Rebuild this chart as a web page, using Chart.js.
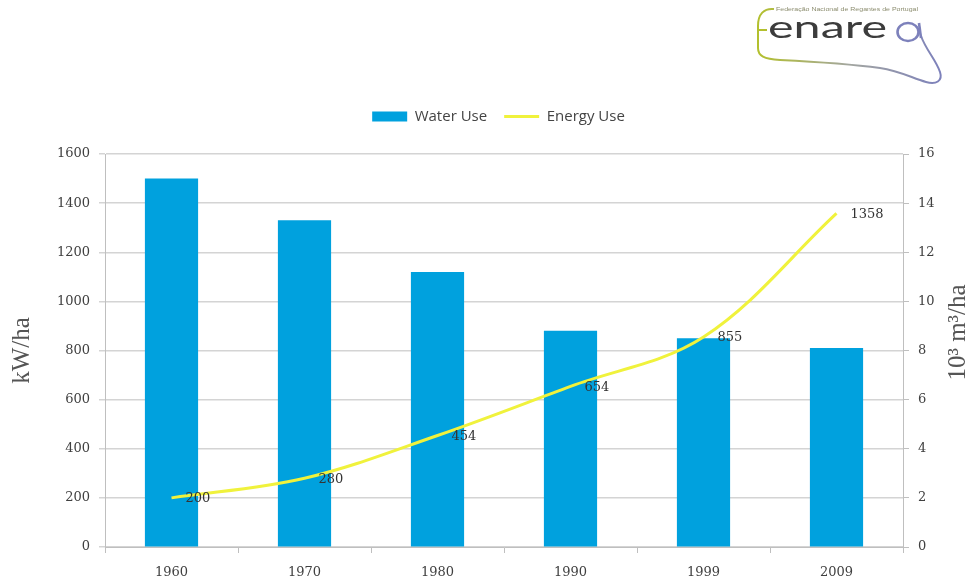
<!DOCTYPE html>
<html>
<head>
<meta charset="utf-8">
<script src="https://cdn.jsdelivr.net/npm/chart.js@4.4.1/dist/chart.umd.min.js"></script>
<style>
  html, body { margin: 0; padding: 0; background: #fff; }
  #wrap { position: relative; width: 967px; height: 580px; }
  #logo { position: absolute; left: 740px; top: 0; }
</style>
</head>
<body>
<div id="wrap">
  <canvas id="chart" width="967" height="580"></canvas>
  <svg id="logo" width="227" height="90" viewBox="0 0 227 90">
    <defs>
      <linearGradient id="sw" x1="0" x2="1" y1="0" y2="0">
        <stop offset="0" stop-color="#b3c02e"/>
        <stop offset="0.5" stop-color="#a3a6a0"/>
        <stop offset="1" stop-color="#7d81bb"/>
      </linearGradient>
    </defs>
    <text x="36" y="11" font-family="Liberation Sans" font-size="5.5" fill="#8b8c6e" textLength="142" lengthAdjust="spacingAndGlyphs">Federação Nacional de Regantes de Portugal</text>
    <path d="M34 9 C24 8 18 14 18 26 L18 48 C18 56 24 59 40 60 C80 62 110 64 140 68 C160 71 172 78 186 82 C196 85 203 81 200 72 C196 60 186 50 181 36" fill="none" stroke="url(#sw)" stroke-width="2"/>
    <path d="M18 30 L27 30" stroke="#b3c02e" stroke-width="2"/>
    <text x="28" y="38" font-family="Lato" font-size="31" fill="#3c3c3c" textLength="119" lengthAdjust="spacingAndGlyphs">enare</text>
    <ellipse cx="168" cy="32" rx="10.5" ry="9" fill="none" stroke="#7d81bb" stroke-width="2.6"/>
    <path d="M179 23 L181 38" stroke="#7d81bb" stroke-width="2.6"/>
  </svg>
</div>
<script>
const years = ['1960', '1970', '1980', '1990', '1999', '2009'];
const waterUse = [15.0, 13.3, 11.2, 8.8, 8.5, 8.1];   // 10^3 m3/ha
const energyUse = [200, 280, 454, 654, 855, 1358];    // kW/ha
const leftTicks = [0, 200, 400, 600, 800, 1000, 1200, 1400, 1600];
const rightTicks = [0, 2, 4, 6, 8, 10, 12, 14, 16];

const BLUE = '#00a1de', YELLOW = '#f0f23c';
const tickFont = { family: 'DejaVu Serif', size: 13 };

const titles = {
  id: 'titles',
  afterLayout(c) {
    // legend sits centred over the plot, not the canvas
    c.legend.left += 15; c.legend.right += 15;
  },
  afterDraw(c) {
    const ctx = c.ctx, a = c.chartArea;
    const mid = (a.top + a.bottom) / 2;
    ctx.save();
    ctx.fillStyle = '#555';
    ctx.font = '25px "Liberation Serif"';
    ctx.textAlign = 'center'; ctx.textBaseline = 'middle';
    ctx.translate(22, mid); ctx.rotate(-Math.PI / 2); ctx.fillText('kW/ha', 0, 0);
    ctx.restore();
    ctx.save();
    ctx.fillStyle = '#555';
    ctx.font = '25px "Liberation Serif"';
    ctx.textAlign = 'center'; ctx.textBaseline = 'middle';
    ctx.translate(958, mid - 18); ctx.rotate(-Math.PI / 2); ctx.fillText('10³ m³/ha', 0, 0);
    ctx.restore();
    // energy point labels
    const meta = c.getDatasetMeta(0);
    ctx.save();
    ctx.fillStyle = '#333';
    ctx.font = '13px "DejaVu Serif"';
    ctx.textAlign = 'left'; ctx.textBaseline = 'middle';
    meta.data.forEach((p, i) => ctx.fillText(String(energyUse[i]), p.x + 14, p.y + 1));
    ctx.restore();
  }
};

new Chart(document.getElementById('chart'), {
  data: {
    labels: years,
    datasets: [
      { type: 'line', label: 'Energy Use', data: energyUse, yAxisID: 'y', borderColor: YELLOW,
        backgroundColor: YELLOW, borderWidth: 3, pointRadius: 0, tension: 0.35 },
      { type: 'bar', label: 'Water Use', data: waterUse, yAxisID: 'y2', backgroundColor: BLUE,
        categoryPercentage: 1, barPercentage: 0.4 }
    ]
  },
  options: {
    responsive: false,
    animation: false,
    layout: { padding: { top: 92, left: 0, right: 0, bottom: 0 } },
    plugins: {
      tooltip: { enabled: false },
      subtitle: { display: true, text: ' ', weight: 500, padding: 0, font: { size: 10, lineHeight: 2 } },
      legend: {
        position: 'top',
        labels: {
          font: { family: 'Open Sans', size: 15 }, color: '#444', padding: 17,
          usePointStyle: true, pointStyleWidth: 35, boxHeight: 10,
          sort: (a, b) => b.datasetIndex - a.datasetIndex,
          generateLabels(c) {
            const items = Chart.defaults.plugins.legend.labels.generateLabels(c);
            items.forEach(it => {
              const isLine = it.datasetIndex === 0;
              it.pointStyle = isLine ? 'line' : 'rect';
              it.lineWidth = isLine ? 3 : 0;
              it.strokeStyle = isLine ? YELLOW : BLUE;
            });
            return items;
          }
        }
      }
    },
    scales: {
      x: {
        grid: { offset: true, drawOnChartArea: false, tickLength: 6, color: '#bfbfbf' },
        border: { color: '#bfbfbf' },
        ticks: { font: tickFont, color: '#404040', padding: 12 },
        afterFit(s) { s.height = 33; }
      },
      y: {
        position: 'left', min: 0, max: 1600,
        afterBuildTicks(s) { s.ticks = leftTicks.map(v => ({ value: v })); },
        grid: { color: '#d4d4d4', tickLength: 6, lineWidth: 1.5 },
        border: { color: '#bfbfbf' },
        ticks: { font: tickFont, color: '#404040', padding: 9, callback: v => String(v) },
        afterFit(s) { s.width = 105; }
      },
      y2: {
        position: 'right', min: 0, max: 16,
        afterBuildTicks(s) { s.ticks = rightTicks.map(v => ({ value: v })); },
        grid: { drawOnChartArea: false, color: '#bfbfbf', tickLength: 6 },
        border: { color: '#bfbfbf' },
        ticks: { font: tickFont, color: '#404040', padding: 9, callback: v => String(v) },
        afterFit(s) { s.width = 64; }
      }
    }
  },
  plugins: [titles]
});
</script>
</body>
</html>
